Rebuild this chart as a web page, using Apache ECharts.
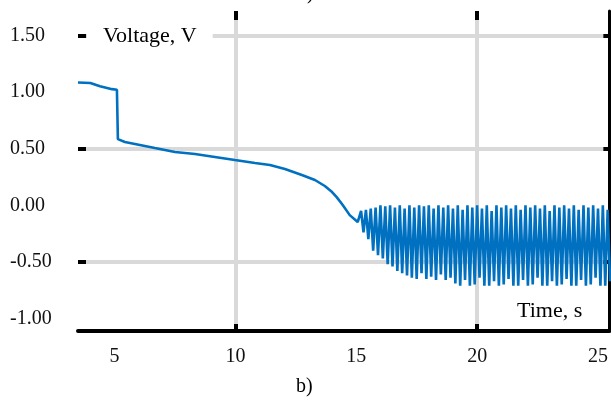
<!DOCTYPE html>
<html>
<head>
<meta charset="utf-8">
<script src="https://cdn.jsdelivr.net/npm/echarts@6/dist/echarts.min.js"></script>
<style>
html,body{margin:0;padding:0;background:#fff;}
#chart{width:611px;height:403px;}
</style>
</head>
<body>
<div id="chart"></div>
<script>
// ---- data ----
const time = [
  3.49, 4.00, 4.40, 4.90, 5.10, 5.14, 5.43, 6.05, 6.67, 7.50, 8.33, 9.15, 9.98, 10.81, 11.43,
  12.05, 12.75, 13.29, 13.70, 14.00, 14.19, 14.44, 14.73, 15.06,
  15.2, 15.3, 15.4, 15.5, 15.6, 15.7, 15.8, 15.9, 16.0, 16.1, 16.2, 16.3, 16.4, 16.5, 16.6, 16.7,
  16.8, 16.9, 17.0, 17.1, 17.2, 17.3, 17.4, 17.5, 17.6, 17.7, 17.8, 17.9, 18.0, 18.1, 18.2, 18.3,
  18.4, 18.5, 18.6, 18.7, 18.8, 18.9, 19.0, 19.1, 19.2, 19.3, 19.4, 19.5, 19.6, 19.7, 19.8, 19.9,
  20.0, 20.1, 20.2, 20.3, 20.4, 20.5, 20.6, 20.7, 20.8, 20.9, 21.0, 21.1, 21.2, 21.3, 21.4, 21.5,
  21.6, 21.7, 21.8, 21.9, 22.0, 22.1, 22.2, 22.3, 22.4, 22.5, 22.6, 22.7, 22.8, 22.9, 23.0, 23.1,
  23.2, 23.3, 23.4, 23.5, 23.6, 23.7, 23.8, 23.9, 24.0, 24.1, 24.2, 24.3, 24.4, 24.5, 24.6, 24.7,
  24.8, 24.9, 25.0, 25.1, 25.2, 25.3, 25.4, 25.5
];
const voltage = [
  1.084, 1.080, 1.050, 1.025, 1.020, 0.584, 0.558, 0.532, 0.505, 0.470, 0.452, 0.426, 0.399, 0.373, 0.355,
  0.320, 0.267, 0.223, 0.170, 0.117, 0.072, 0.002, -0.087, -0.148,
  -0.05, -0.24, -0.04, -0.30, -0.03, -0.40, -0.02, -0.44, 0.00, -0.47, -0.01, -0.52, 0.00, -0.54, -0.02, -0.58,
  0.00, -0.60, -0.03, -0.62, 0.00, -0.64, -0.02, -0.65, 0.00, -0.60, -0.01, -0.65, 0.00, -0.63, -0.03, -0.66,
  0.00, -0.61, -0.02, -0.66, 0.00, -0.64, -0.03, -0.69, 0.00, -0.71, -0.04, -0.66, 0.00, -0.71, -0.02, -0.70,
  0.00, -0.64, -0.03, -0.71, 0.00, -0.71, -0.05, -0.67, 0.00, -0.71, -0.02, -0.70, 0.00, -0.65, -0.03, -0.71,
  0.00, -0.71, -0.04, -0.66, 0.00, -0.71, -0.02, -0.70, 0.00, -0.64, -0.03, -0.71, 0.00, -0.71, -0.05, -0.67,
  0.00, -0.71, -0.02, -0.70, 0.00, -0.65, -0.03, -0.71, 0.00, -0.71, -0.04, -0.66, 0.00, -0.71, -0.02, -0.70,
  0.00, -0.64, -0.03, -0.71, 0.00, -0.71, -0.04, -0.67
];
const xLabelValues = [5, 10, 15, 20, 25];
const xMajorValues = [10, 20];
const yLabelValues = [1.5, 1.0, 0.5, 0.0, -0.5, -1.0];
const yMajorValues = [1.5, 0.5, -0.5];
const yTitle = 'Voltage, V';
const xTitle = 'Time, s';

const seriesData = time.map((t, i) => [t, voltage[i]]);

const chart = echarts.init(document.getElementById('chart'), null, {renderer: 'canvas'});
const serif = 'Liberation Serif';
chart.setOption({
  animation: false,
  backgroundColor: '#ffffff',
  grid: {left: 78, right: 1, top: 11, bottom: 72, containLabel: false},
  xAxis: [{
    type: 'value', position: 'bottom', min: 3.49, max: 25.47,
    axisLine: {show: true, onZero: false, lineStyle: {color: '#000', width: 4}},
    axisTick: {show: true, inside: true, length: 7, customValues: xMajorValues, lineStyle: {color: '#000', width: 4}},
    axisLabel: {show: true, customValues: xLabelValues, margin: 16, color: '#111', fontFamily: serif, fontSize: 20},
    splitLine: {show: true, lineStyle: {color: '#d9d9d9', width: 4}}
  }, {
    type: 'value', position: 'top', min: 3.49, max: 25.47,
    axisLine: {show: false, onZero: false},
    axisTick: {show: true, inside: true, length: 9, customValues: xMajorValues, lineStyle: {color: '#000', width: 4}},
    axisLabel: {show: false},
    splitLine: {show: false}
  }],
  yAxis: [{
    type: 'value', position: 'left', min: -1.11, max: 1.715,
    axisLine: {show: false, onZero: false},
    axisTick: {show: true, inside: true, length: 8, customValues: yMajorValues, lineStyle: {color: '#000', width: 4}},
    axisLabel: {show: true, customValues: yLabelValues, align: 'left', margin: 68, color: '#111',
      fontFamily: serif, fontSize: 20, formatter: v => v.toFixed(2)},
    splitLine: {show: true, lineStyle: {color: '#d9d9d9', width: 4}}
  }, {
    type: 'value', position: 'right', min: -1.11, max: 1.715,
    axisLine: {show: true, onZero: false, lineStyle: {color: '#000', width: 3}},
    axisTick: {show: true, inside: true, length: 6, customValues: yMajorValues, lineStyle: {color: '#000', width: 4}},
    axisLabel: {show: false},
    splitLine: {show: false}
  }],
  series: [{
    type: 'line', xAxisIndex: 0, yAxisIndex: 0,
    data: seriesData, showSymbol: false, symbol: 'none',
    lineStyle: {color: '#0070c0', width: 2.6}, clip: true, z: 3
  }],
  graphic: [
    {type: 'text', left: 87, top: 24, z: 10,
     style: {text: yTitle, font: '22px "Liberation Serif"', fill: '#000',
             backgroundColor: '#fff', padding: [1, 16, 1, 16]}},
    {type: 'text', left: 517, top: 300, z: 10,
     style: {text: xTitle, font: '22px "Liberation Serif"', fill: '#000'}},
    {type: 'text', left: 296, top: 377, z: 10,
     style: {text: 'b)', font: '20px "Liberation Serif"', fill: '#000'}},
    {type: 'text', left: 298, top: -16, z: 10,
     style: {text: 'a)', font: '20px "Liberation Serif"', fill: '#000'}}
  ]
});
</script>
</body>
</html>
